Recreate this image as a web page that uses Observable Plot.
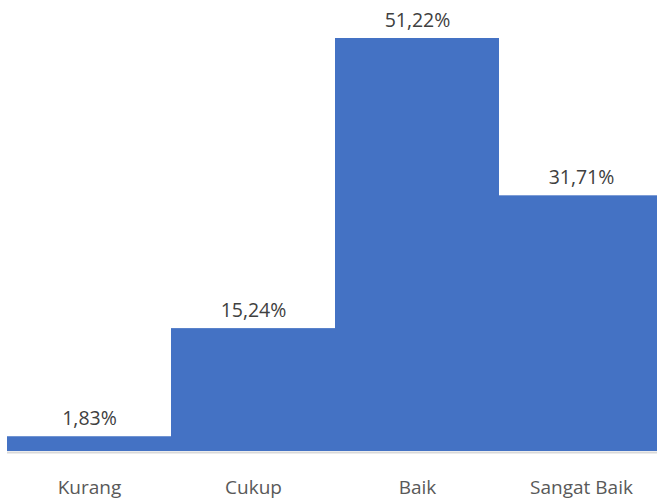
<!DOCTYPE html>
<html>
<head>
<meta charset="utf-8">
<script src="https://cdn.jsdelivr.net/npm/d3@7"></script>
<script src="https://cdn.jsdelivr.net/npm/@observablehq/plot@0.6"></script>
<style>
  html, body { margin: 0; padding: 0; background: #fff; overflow: hidden; }
  #chart svg { display: block; }
</style>
</head>
<body>
<div id="chart"></div>
<script>
const categories = ["Kurang", "Cukup", "Baik", "Sangat Baik"];
const values = [1.83, 15.24, 51.22, 31.71];

const data = categories.map((c, i) => ({ category: c, value: values[i] }));
const fmt = v => v.toFixed(2).replace(".", ",") + "%";

const chart = Plot.plot({
  width: 657,
  height: 504,
  marginLeft: 7,
  marginRight: 0,
  marginTop: 38,
  marginBottom: 53,
  style: { fontFamily: "'Open Sans', sans-serif", background: "#fff", overflow: "hidden" },
  x: { domain: categories, padding: 0, label: null, range: [7, 663] },
  y: { domain: [0, 51.22], axis: null },
  marks: [
    Plot.barY(data, { x: "category", y: "value", fill: "#4472C4", inset: 0 }),
    Plot.ruleY([0], { stroke: "#d9d9d9", strokeWidth: 2, dy: 1 }),
    Plot.text(data, {
      x: "category", y: "value", text: d => fmt(d.value),
      lineAnchor: "bottom", dy: -12, fontSize: 19.5, fill: "#404040"
    }),
    Plot.axisX({ tickSize: 0, tickPadding: 29, fontSize: 19, fill: "#595959", label: null })
  ]
});
document.getElementById("chart").appendChild(chart);
</script>
</body>
</html>
